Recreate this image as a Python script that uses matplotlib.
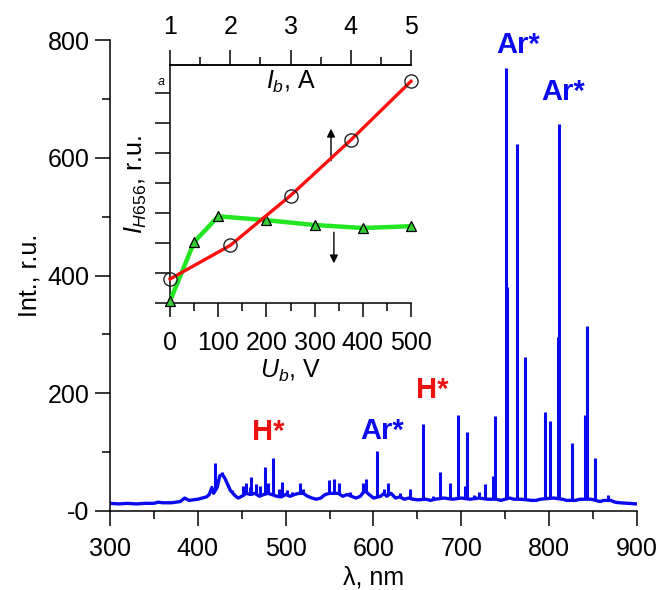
import matplotlib.pyplot as plt
from matplotlib.ticker import MultipleLocator
import numpy as np

plt.rcParams['font.family'] = ['Liberation Sans', 'DejaVu Sans']
plt.rcParams['mathtext.fontset'] = 'custom'
plt.rcParams['mathtext.it'] = 'Liberation Sans:italic'
plt.rcParams['mathtext.rm'] = 'Liberation Sans'

# Emission spectrum: background / continuum
base_nm = [300, 310, 320, 330, 340, 350, 355, 360, 370, 380, 385, 390, 395, 400,
           405, 410, 413, 416, 418, 422, 425, 428, 431, 434, 437, 440, 443, 446,
           450, 455, 460, 465, 470, 475, 480, 484, 490, 495, 500, 505, 510, 515,
           520, 525, 530, 535, 540, 545, 550, 555, 560, 565, 570, 575, 580, 585,
           590, 595, 600, 608, 612, 615, 620, 625, 630, 635, 640, 645, 650, 660,
           665, 670, 680, 690, 700, 710, 720, 730, 740, 745, 755, 760, 768, 780,
           785, 790, 805, 815, 820, 830, 835, 848, 858, 862, 870, 875, 880, 890, 900]
base_int = [13, 12, 13, 12, 13, 13, 15, 14, 14, 16, 22, 18, 19, 20,
            22, 24, 28, 40, 30, 40, 60, 62, 55, 45, 35, 30, 25, 22,
            25, 30, 28, 30, 25, 28, 30, 28, 25, 24, 28, 25, 28, 30,
            30, 25, 22, 20, 22, 28, 30, 30, 30, 25, 28, 25, 22, 25,
            35, 28, 22, 25, 30, 25, 30, 22, 24, 20, 22, 20, 19, 20,
            18, 20, 22, 20, 22, 20, 22, 20, 20, 18, 22, 20, 20, 18,
            18, 20, 22, 20, 18, 18, 20, 20, 16, 18, 18, 15, 14, 13, 12]

# Emission spectrum: lines
line_nm = [420.0, 427, 434, 439, 451, 455, 459, 461, 466, 471, 476, 480, 486, 492,
           496, 501, 507, 516, 520, 549.5, 555.5, 560.5, 573, 588, 591, 603.5, 612,
           617, 630, 641, 656.3, 668, 675.5, 687, 696.5, 704.5, 706.7, 714, 720.5,
           727.3, 736, 738.4, 750.4, 752.5, 763.5, 772.4, 794.8, 801.5, 810.4,
           811.5, 826.5, 840.8, 842.5, 852.1, 866.8]
line_int = [82, 66, 40, 36, 42, 48, 40, 58, 46, 42, 75, 48, 90, 38,
            50, 35, 32, 47, 38, 53, 54, 48, 33, 48, 54, 102, 38,
            47, 31, 37, 148, 25, 67, 47, 163, 43, 134, 28, 32,
            46, 60, 162, 752, 381, 623, 261, 168, 153, 296,
            658, 116, 163, 315, 90, 28]

# Inset: I_H656 vs U_b and vs I_b (relative units)
u_b = [0, 50, 100, 200, 300, 400, 500]
h_vs_u = [0.06, 2.03, 2.89, 2.76, 2.6, 2.5, 2.56]
i_b = [1, 2, 3, 4, 5]
h_vs_i = [0.8, 1.92, 3.58, 5.43, 7.39]

blue = '#0a0af0'
red = '#ee1111'
fs = 18

fig = plt.figure(figsize=(6.61, 5.9), dpi=100)
ax = fig.add_axes([0.1664, 0.1339, 0.7973, 0.7983])
ax.plot(base_nm, base_int, color=blue, lw=2.4)
floor = np.interp(line_nm, base_nm, base_int)
ax.vlines(line_nm, floor, line_int, color=blue, lw=2.2)

ax.set_xlim(300, 900)
ax.set_ylim(0, 800)
ax.set_xticks(range(300, 901, 100))
ax.set_yticks([0, 200, 400, 600, 800], labels=['-0', '200', '400', '600', '800'])
ax.xaxis.set_minor_locator(MultipleLocator(50))
ax.yaxis.set_minor_locator(MultipleLocator(100))
for s in ['top', 'right']:
    ax.spines[s].set_visible(False)
for s in ['left', 'bottom']:
    ax.spines[s].set_linewidth(1.1)
ax.tick_params(which='major', length=10.8, width=1.1, labelsize=fs, pad=4)
ax.tick_params(which='minor', length=5.8, width=1.1)
ax.tick_params(axis='x', pad=8)
ax.set_xlabel('λ, nm', fontsize=fs, labelpad=3)
ax.set_ylabel('Int., r.u.', fontsize=fs, labelpad=4)

ax.text(480, 134, 'H*', color=red, fontsize=21, fontweight='bold', ha='center', va='center')
ax.text(666.7, 205, 'H*', color=red, fontsize=21, fontweight='bold', ha='center', va='center')
ax.text(610, 136, 'Ar*', color=blue, fontsize=21, fontweight='bold', ha='center', va='center')
ax.text(764.6, 791, 'Ar*', color=blue, fontsize=21, fontweight='bold', ha='center', va='center',
        clip_on=False)
ax.text(816, 711, 'Ar*', color=blue, fontsize=21, fontweight='bold', ha='center', va='center')

# inset
ins = fig.add_axes([0.2572, 0.4864, 0.3646, 0.4034])
ins.patch.set_alpha(0)
ins.plot(u_b, h_vs_u, color='#22e622', lw=3.2, marker='^', ms=7.5, mfc='#33cc33',
         mec='black', mew=0.9, clip_on=False, zorder=3)
ins.set_xlim(0, 500)
ins.set_ylim(0, 7.93)
ins.set_xticks(range(0, 501, 100))
ins.xaxis.set_minor_locator(MultipleLocator(50))
ins.set_yticks(range(0, 8))
ins.set_yticklabels([])
ins.tick_params(axis='x', which='major', length=10, width=1.1, labelsize=fs, pad=10)
ins.tick_params(axis='x', which='minor', length=5.8, width=1.1)
ins.tick_params(axis='y', length=10.8, width=1.1, pad=2)
ins.spines['right'].set_visible(False)
for s in ['left', 'bottom', 'top']:
    ins.spines[s].set_linewidth(1.1)
ins.set_xlabel('$U_b$, V', fontsize=fs, labelpad=2)
ins.set_ylabel('$I_{\\mathit{H656}}$, r.u.', fontsize=fs, labelpad=2)

top = ins.twiny()
top.plot(i_b, h_vs_i, color='#ff1010', lw=2.4, marker='o', ms=9.5, mfc='none',
         mec='#222222', mew=1.0, clip_on=False, zorder=3)
top.set_xlim(1, 5)
top.set_xticks(range(1, 6))
top.xaxis.set_minor_locator(MultipleLocator(0.5))
top.tick_params(which='major', length=10.8, width=1.1, labelsize=fs, pad=8)
top.tick_params(which='minor', length=5.8, width=1.1)
for s in ['right', 'left', 'bottom']:
    top.spines[s].set_visible(False)
top.spines['top'].set_linewidth(1.1)
top.text(0.5, 0.93, '$I_b$, A', transform=top.transAxes, fontsize=fs, ha='center', va='center')
ins.text(-0.035, 0.93, 'a', transform=ins.transAxes, fontsize=9, style='italic',
         ha='center', va='center')

ins.annotate('', xy=(334, 5.9), xytext=(334, 4.65),
             arrowprops=dict(arrowstyle='-|>', color='black', lw=1, mutation_scale=12))
ins.annotate('', xy=(340, 1.23), xytext=(340, 2.45),
             arrowprops=dict(arrowstyle='-|>', color='black', lw=1, mutation_scale=12))

fig.savefig('out.png', dpi=100)
